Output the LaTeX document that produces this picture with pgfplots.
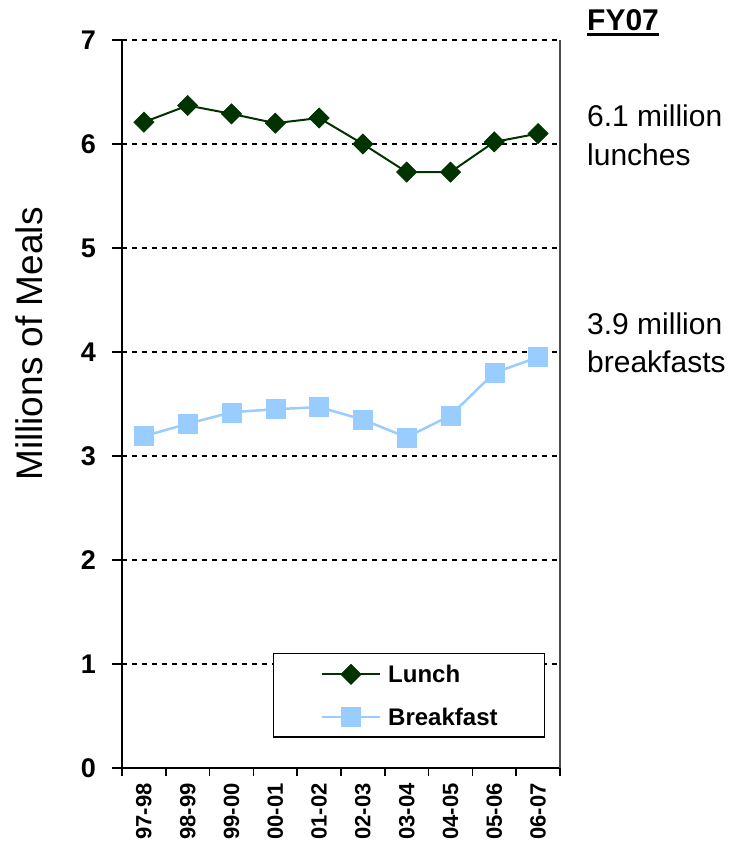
\documentclass[border=0pt]{standalone}
\usepackage{fontspec}
\setmainfont{Liberation Sans}
\usepackage{pgfplots}
\pgfplotsset{compat=1.18}
\definecolor{lunch}{HTML}{003300}
\definecolor{bfast}{HTML}{99CCFF}
\begin{document}
\begin{tikzpicture}
\useasboundingbox (-122bp,-73bp) rectangle (616bp,768bp);
\begin{axis}[
  at={(0,0)}, anchor=south west,
  scale only axis, width=438bp, height=728bp,
  xmin=-0.5, xmax=9.5, ymin=0, ymax=7,
  axis x line*=bottom, axis y line*=left,
  axis line style={line width=2bp, black},
  ytick={0,1,...,7},
  xtick={0,1,...,9},
  xticklabels={97-98,98-99,99-00,00-01,01-02,02-03,03-04,04-05,05-06,06-07},
  minor xtick={-0.5,0.5,...,9.5},
  tick align=outside,
  major tick length=10bp, minor tick length=8bp,
  xtick style={/pgfplots/major tick length=0pt, line width=1.5bp, black},
  ytick style={line width=1.5bp, black},
  ymajorgrids,
  grid style={line width=1.5bp, black, dash pattern=on 5bp off 5bp},
  /pgf/number format/assume math mode=true,
  yticklabel style={font=\fontsize{27bp}{30bp}\selectfont\bfseries, inner sep=0pt, anchor=east, xshift=-16bp},
  xticklabel style={font=\fontsize{22bp}{26bp}\selectfont\bfseries, inner sep=0pt, rotate=90, anchor=east},
  xticklabel shift=5bp,
  ylabel={Millions of Meals},
  ylabel style={at={(axis description cs:-0.2123,0.5824)}, anchor=center, font=\fontsize{37bp}{40bp}\selectfont},
  legend style={at={(axis description cs:0.3447,0.158)}, anchor=north west, draw=black, line width=1.5bp,
    inner xsep=47bp, inner ysep=10.5bp, row sep=23bp, column sep=7bp,
    nodes={inner sep=0pt, text height=17bp, text depth=0pt, font=\fontsize{24bp}{26bp}\selectfont\bfseries},
    cells={anchor=west}},
  legend image code/.code={\draw[mark repeat=2,mark phase=2,#1] plot coordinates {(0bp,0bp) (29bp,0bp) (58bp,0bp)};},
  clip=false,
]
\addplot[color=lunch, line width=2bp, mark=square*, mark size=7.2bp, mark options={rotate=45, fill=lunch, draw=lunch, line width=0.5bp}]
  coordinates {(0,6.21) (1,6.37) (2,6.29) (3,6.20) (4,6.25) (5,6.00) (6,5.73) (7,5.73) (8,6.02) (9,6.10)};
\addlegendentry{Lunch}
\addplot[color=bfast, line width=2.5bp, mark=square*, mark size=9.5bp, mark options={fill=bfast, draw=bfast, line width=0.5bp}]
  coordinates {(0,3.19) (1,3.31) (2,3.42) (3,3.45) (4,3.47) (5,3.35) (6,3.18) (7,3.39) (8,3.80) (9,3.95)};
\addlegendentry{Breakfast}
\coordinate (O) at (rel axis cs:0,0);
\coordinate (R0) at (rel axis cs:1,0);
\coordinate (R1) at (rel axis cs:1,1);
\end{axis}
\draw[line width=1.5bp, black!70] (R0) -- (R1);
\node[anchor=base west, inner sep=0pt, font=\fontsize{30bp}{36bp}\selectfont\bfseries] (fy) at ([shift={(465bp,737bp)}]O) {FY07};
\draw[line width=3bp] ([yshift=-4bp]fy.base west) -- ([yshift=-4bp]fy.base east);
\node[anchor=base west, inner sep=0pt, font=\fontsize{30bp}{36bp}\selectfont] at ([shift={(465bp,641bp)}]O) {6.1 million};
\node[anchor=base west, inner sep=0pt, font=\fontsize{30bp}{36bp}\selectfont] at ([shift={(465bp,602bp)}]O) {lunches};
\node[anchor=base west, inner sep=0pt, font=\fontsize{30bp}{36bp}\selectfont] at ([shift={(465bp,433bp)}]O) {3.9 million};
\node[anchor=base west, inner sep=0pt, font=\fontsize{30bp}{36bp}\selectfont] at ([shift={(465bp,395bp)}]O) {breakfasts};
\end{tikzpicture}
\end{document}
